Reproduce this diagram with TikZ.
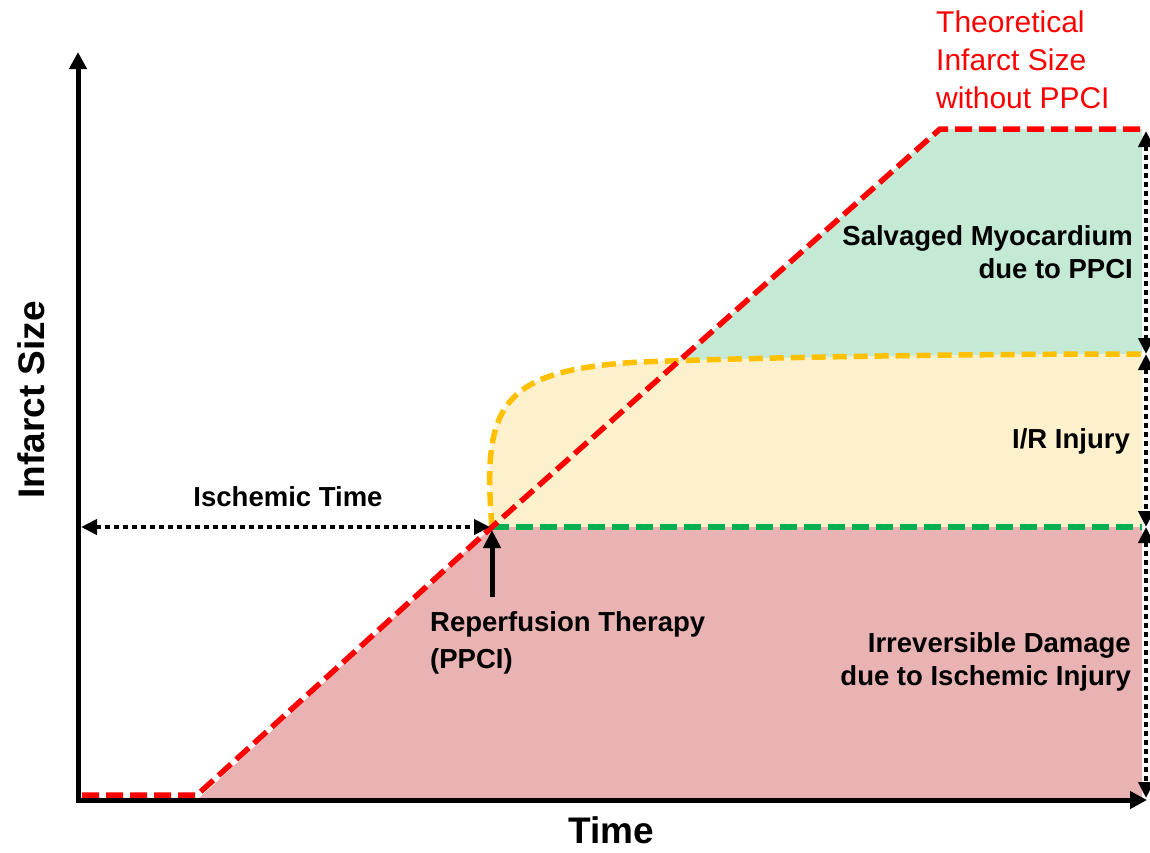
\documentclass[tikz,border=0pt]{standalone}
\usepackage{fontspec}
\setmainfont{Liberation Sans}
\usetikzlibrary{arrows.meta}
\definecolor{pinkfill}{RGB}{234,179,179}
\definecolor{yelfill}{RGB}{253,240,205}
\definecolor{grnfill}{RGB}{196,234,213}
\definecolor{redline}{RGB}{255,0,0}
\definecolor{grnline}{RGB}{0,176,80}
\definecolor{yelline}{RGB}{255,192,0}
\tikzset{
  axisline/.style={line width=5pt,-{Triangle[length=17pt,width=17pt]}},
  reddash/.style={draw=redline,line width=5.5pt,dash pattern=on 17pt off 7pt},
  grndash/.style={draw=grnline,line width=5.5pt,dash pattern=on 17pt off 7pt},
  yeldash/.style={draw=yelline,line width=5.5pt,dash pattern=on 14pt off 7pt},
  dotarrow/.style={line width=4.5pt,dash pattern=on 4.5pt off 4.5pt,{Triangle[length=16pt,width=15pt]}-{Triangle[length=16pt,width=15pt]}},
  lbl/.style={font=\bfseries\fontsize{27.5}{33}\selectfont,inner sep=0pt},
  axlbl/.style={font=\bfseries\fontsize{37}{44}\selectfont,inner sep=0pt},
  redlbl/.style={text=redline,font=\fontsize{30}{38}\selectfont,inner sep=0pt,align=left}
}
\begin{document}
\begin{tikzpicture}[x=1pt,y=-1pt]
\useasboundingbox (0,0) rectangle (1150,852);
% key points
\coordinate (r0) at (82,795);
\coordinate (r1) at (197,797);
\coordinate (rp) at (492,527);
\coordinate (rt) at (940,129);
\coordinate (re) at (1142,129);
\coordinate (ye) at (1142,354);
\coordinate (ge) at (1142,527);
\coordinate (be) at (1142,800);
\coordinate (o) at (78,800);
\coordinate (ytop) at (78,52);
\coordinate (xend) at (1147,800);
% fills
\fill[grnfill] (rp) -- (rt) -- (re) -- (ge) -- cycle;
\fill[yelfill] (rp) .. controls (482,405) and (500,370) .. (640,362)
   .. controls (800,356) and (1000,354) .. (ye) -- (ge) -- cycle;
\fill[pinkfill] (r1 |- o) -- (rp) -- (ge) -- (be) -- cycle;
% dashed lines
\draw[grndash] (rp) -- (ge);
\draw[yeldash] (rp) .. controls (482,405) and (500,370) .. (640,362)
   .. controls (800,356) and (1000,354) .. (ye);
\draw[reddash] (r0) -- (197,795) -- (rp) -- (rt) -- (re);
% axes
\draw[axisline] ([yshift=2.5pt]o) -- (ytop);
\draw[axisline] ([xshift=-2.5pt]o) -- (xend);
% dotted arrows
\coordinate (ia) at (81,527);
\coordinate (ib) at (490,527);
\draw[dotarrow] (ia) -- (ib);
\coordinate (d1) at (1146,131);
\coordinate (d2) at (1146,354);
\coordinate (d3) at (1146,527);
\coordinate (d4) at (1146,798);
\draw[dotarrow] (d1) -- (d2);
\draw[dotarrow] (d2) -- (d3);
\draw[dotarrow] (d3) -- (d4);
% reperfusion arrow
\coordinate (pa) at (492,597);
\coordinate (pb) at (492,530);
\draw[line width=5pt,-{Triangle[length=18pt,width=17pt]}] (pa) -- (pb);
% labels
\node[lbl,anchor=center] (isch) at (288,497) {Ischemic Time};
\node[lbl,anchor=north west,align=left,font=\bfseries\fontsize{27.5}{37}\selectfont] (rep) at (430,611) {Reperfusion Therapy\\(PPCI)};
\node[lbl,anchor=north east,align=right] (irr) at (1131,632) {Irreversible Damage\\due to Ischemic Injury};
\node[lbl,anchor=center] (ir) at (1071,441) {I/R Injury};
\node[lbl,anchor=north east,align=right] (salv) at (1133,225) {Salvaged Myocardium\\due to PPCI};
\node[redlbl,anchor=north west] (theo) at (936,11) {Theoretical\\Infarct Size\\without PPCI};
\node[axlbl,rotate=90] (ylab) at (31,400) {Infarct Size};
\node[axlbl] (xlab) at (611,830) {Time};
\end{tikzpicture}
\end{document}
